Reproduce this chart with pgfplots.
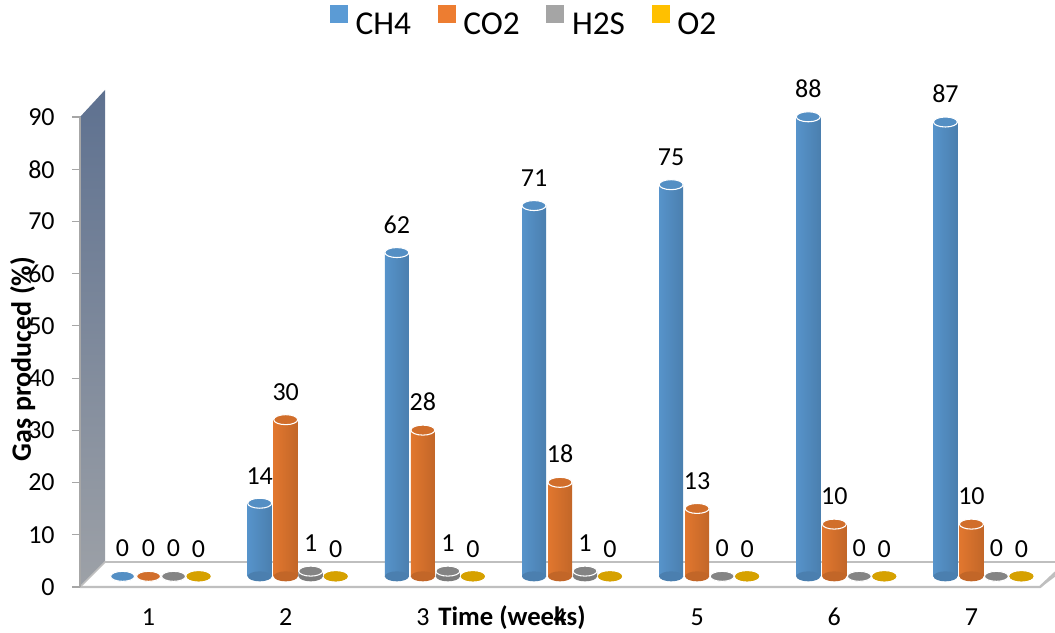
\documentclass[border=0pt]{standalone}
\usepackage{fontspec}
\setmainfont{Carlito}
\usepackage{pgfplots}
\usepackage{pgfplotstable}
\pgfplotsset{compat=1.18}

\definecolor{cCH}{HTML}{5B9BD5}
\definecolor{cCO}{HTML}{ED7D31}
\definecolor{cHS}{HTML}{A5A5A5}
\definecolor{cOO}{HTML}{FFC000}
\definecolor{wallTop}{HTML}{5E7190}
\definecolor{wallBot}{HTML}{9DA1A7}
\definecolor{floorLine}{HTML}{BFBFBF}

\pgfdeclareplotmark{cap}{%
  \pgfpathellipse{\pgfpointorigin}{\pgfpoint{9pt}{0pt}}{\pgfpoint{0pt}{3.75pt}}%
  \pgfusepathqfillstroke}
\pgfdeclareplotmark{capfill}{%
  \pgfpathellipse{\pgfpointorigin}{\pgfpoint{9pt}{0pt}}{\pgfpoint{0pt}{3.75pt}}%
  \pgfusepathqfill}

\pgfplotstableread{
week CH4 CO2 H2S O2 base
1 0 0 0 0 0
2 14 30 1 0 0
3 62 28 1 0 0
4 71 18 1 0 0
5 75 13 0 0 0
6 88 10 0 0 0
7 87 10 0 0 0
}\gasdata

\pgfplotsset{/pgf/number format/assume math mode=true}

\begin{document}
\begin{tikzpicture}
\useasboundingbox (-60pt,-33.75pt) rectangle (731.25pt,440.25pt);
% back wall and floor
\shade[top color=wallTop, bottom color=wallBot] (0pt,0pt) -- (0pt,352.5pt) -- (18.75pt,372.75pt) -- (18.75pt,18.75pt) -- cycle;
\filldraw[fill=white, draw=floorLine, line width=1.2pt] (0pt,0pt) -- (18.75pt,18.75pt) -- (745pt,18.75pt) -- (720pt,0pt) -- cycle;
\draw[floorLine, line width=1.8pt] (0pt,0pt) -- (720pt,0pt) -- (740pt,18.75pt);
\draw[gray!70, line width=0.8pt] (0pt,0pt) -- (0pt,352.5pt);
\begin{axis}[
  at={(0pt,0pt)}, anchor=south west,
  scale only axis, width=720pt, height=352.5pt,
  xmin=0.5, xmax=7.5, ymin=0, ymax=90,
  xtick={1,2,3,4,5,6,7}, ytick={0,10,...,90},
  axis line style={draw=none},
  xtick style={draw=none},
  ytick style={draw=gray!70, line width=0.8pt},
  ytick pos=left, xtick pos=bottom,
  tick align=outside, major tick length=6pt,
  ticklabel style={font=\fontsize{19.5}{21}\selectfont},
  yticklabel style={anchor=east, xshift=-9.5pt},
  xticklabel style={anchor=center, yshift=-16.5pt},
  clip=false,
  xlabel={Time (weeks)},
  xlabel style={at={(axis description cs:0.45,0)}, anchor=center, yshift=-23pt, font=\bfseries\fontsize{20}{22}\selectfont},
  ylabel={Gas produced (\%)},
  ylabel style={at={(axis description cs:0,0.485)}, anchor=center, rotate=0, yshift=43pt, font=\bfseries\fontsize{21}{23}\selectfont},
  legend style={at={(axis description cs:0.463,1)}, anchor=center, yshift=71.25pt, draw=none, fill=none,
    font=\fontsize{25}{28}\selectfont, legend columns=-1,
    /tikz/every even column/.append style={column sep=18pt}},
  every axis plot/.append style={yshift=8pt},
  nodes near coords style={font=\fontsize{19.5}{21}\selectfont, anchor=south, inner sep=0pt, yshift=14pt},
]
\addlegendimage{legend image code/.code={\fill[cCH] (0pt,-6.4pt) rectangle (12.75pt,6.4pt); \path[draw=none,fill=none] (0pt,0pt) -- (17pt,0pt);}}
\addlegendimage{legend image code/.code={\fill[cCO] (0pt,-6.4pt) rectangle (12.75pt,6.4pt); \path[draw=none,fill=none] (0pt,0pt) -- (17pt,0pt);}}
\addlegendimage{legend image code/.code={\fill[cHS] (0pt,-6.4pt) rectangle (12.75pt,6.4pt); \path[draw=none,fill=none] (0pt,0pt) -- (17pt,0pt);}}
\addlegendimage{legend image code/.code={\fill[cOO] (0pt,-6.4pt) rectangle (12.75pt,6.4pt); \path[draw=none,fill=none] (0pt,0pt) -- (17pt,0pt);}}
\legend{CH4,CO2,H2S,O2}

% CH4
\addplot[forget plot, only marks, mark=capfill, mark options={fill=cCH!82!black, xshift=-19.5pt}] table[x=week,y=base]{\gasdata};
\pgfplotsinvokeforeach{1,...,7}{
\addplot[forget plot, ybar, bar width=18pt, bar shift=-19.5pt, draw=none, restrict x to domain=#1:#1,
  left color=cCH!95!black, middle color=cCH!80!white, right color=cCH!82!black] table[x=week,y=CH4]{\gasdata};
}
\addplot[forget plot, only marks, mark=cap, mark options={fill=cCH!92!black, draw=white, line width=0.8pt, xshift=-19.5pt},
  nodes near coords, point meta=explicit] table[x=week,y=CH4,meta=CH4]{\gasdata};
% CO2
\addplot[forget plot, only marks, mark=capfill, mark options={fill=cCO!82!black}] table[x=week,y=base]{\gasdata};
\pgfplotsinvokeforeach{1,...,7}{
\addplot[forget plot, ybar, bar width=18pt, bar shift=0pt, draw=none, restrict x to domain=#1:#1,
  left color=cCO!95!black, middle color=cCO!85!white, right color=cCO!82!black] table[x=week,y=CO2]{\gasdata};
}
\addplot[forget plot, only marks, mark=cap, mark options={fill=cCO!88!black, draw=white, line width=0.8pt},
  nodes near coords, point meta=explicit] table[x=week,y=CO2,meta=CO2]{\gasdata};
% H2S
\addplot[forget plot, only marks, mark=capfill, mark options={fill=cHS!75!black, xshift=18.75pt}] table[x=week,y=base]{\gasdata};
\pgfplotsinvokeforeach{1,...,7}{
\addplot[forget plot, ybar, bar width=18pt, bar shift=18.75pt, draw=none, restrict x to domain=#1:#1,
  left color=cHS!92!black, middle color=cHS!80!white, right color=cHS!78!black] table[x=week,y=H2S]{\gasdata};
}
\addplot[forget plot, only marks, mark=cap, mark options={fill=cHS!80!black, draw=white, line width=0.8pt, xshift=18.75pt},
  nodes near coords, point meta=explicit] table[x=week,y=H2S,meta=H2S]{\gasdata};
% O2
\addplot[forget plot, only marks, mark=capfill, mark options={fill=cOO!82!black, xshift=37.5pt}] table[x=week,y=base]{\gasdata};
\addplot[forget plot, only marks, mark=capfill, mark options={fill=cOO!84!black, xshift=37.5pt},
  nodes near coords, point meta=explicit] table[x=week,y=O2,meta=O2]{\gasdata};
\end{axis}
\end{tikzpicture}
\end{document}
